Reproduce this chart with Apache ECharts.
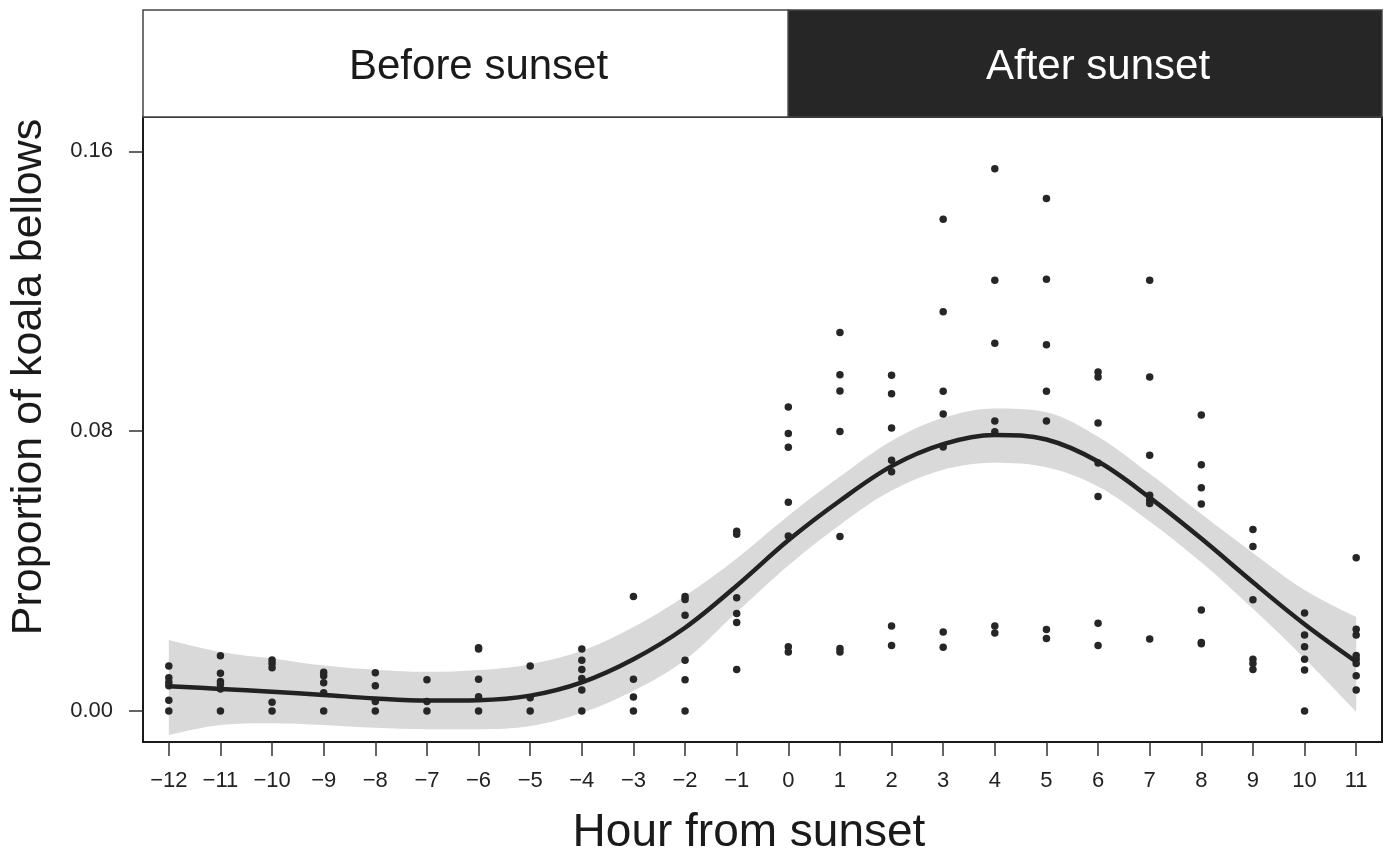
<!DOCTYPE html>
<html>
<head>
<meta charset="utf-8">
<script src="https://cdn.jsdelivr.net/npm/echarts@6/dist/echarts.min.js"></script>
<style>
html,body{margin:0;padding:0;background:#fff;}
#chart{width:1388px;height:851px;}
</style>
</head>
<body>
<div id="chart"></div>
<script>
// ---- data ----
const hours = [-12,-11,-10,-9,-8,-7,-6,-5,-4,-3,-2,-1,0,1,2,3,4,5,6,7,8,9,10,11];
const pointValues = [
  [0.0129, 0.0095, 0.0082, 0.0072, 0.0031, 0.0],
  [0.0158, 0.0108, 0.0084, 0.0076, 0.0063, 0.0],
  [0.0146, 0.0136, 0.0124, 0.0025, 0.0],
  [0.0111, 0.0101, 0.0081, 0.0052, 0.0],
  [0.0109, 0.0072, 0.0027, 0.0],
  [0.0089, 0.0027, 0.0],
  [0.0181, 0.0177, 0.0091, 0.0041, 0.0],
  [0.0129, 0.0038, 0.0],
  [0.0177, 0.0145, 0.0119, 0.0093, 0.0060, 0.0],
  [0.0327, 0.0091, 0.0040, 0.0],
  [0.0327, 0.0319, 0.0274, 0.0145, 0.0089, 0.0],
  [0.0514, 0.0505, 0.0324, 0.0279, 0.0253, 0.0119],
  [0.0869, 0.0793, 0.0754, 0.0597, 0.0500, 0.0184, 0.0169],
  [0.1082, 0.0961, 0.0915, 0.0799, 0.0499, 0.0179, 0.0169],
  [0.0960, 0.0907, 0.0809, 0.0717, 0.0684, 0.0243, 0.0187],
  [0.1406, 0.1141, 0.0914, 0.0849, 0.0755, 0.0226, 0.0182],
  [0.1550, 0.1231, 0.1051, 0.0829, 0.0798, 0.0243, 0.0223],
  [0.1465, 0.1234, 0.1047, 0.0914, 0.0829, 0.0233, 0.0207],
  [0.0969, 0.0955, 0.0823, 0.0709, 0.0613, 0.0251, 0.0187],
  [0.1231, 0.0955, 0.0731, 0.0617, 0.0603, 0.0593, 0.0206],
  [0.0846, 0.0704, 0.0638, 0.0592, 0.0289, 0.0196, 0.0192],
  [0.0519, 0.0470, 0.0318, 0.0148, 0.0136, 0.0119],
  [0.0280, 0.0217, 0.0184, 0.0148, 0.0117, 0.0],
  [0.0438, 0.0234, 0.0217, 0.0159, 0.0148, 0.0136, 0.0101, 0.0060]
];
const fitValues = [0.0071,0.0063,0.0055,0.0046,0.0036,0.0030,0.0031,0.0044,0.0082,0.0148,0.0238,0.0358,0.0488,0.0601,0.0700,0.0763,0.0789,0.0776,0.0713,0.0610,0.0493,0.0368,0.0248,0.0141];
const bandUpper = [0.0203,0.0169,0.0150,0.0130,0.0118,0.0112,0.0117,0.0134,0.0172,0.0240,0.0329,0.0436,0.0558,0.0670,0.0772,0.0838,0.0865,0.0854,0.0784,0.0678,0.0563,0.0452,0.0346,0.0269];
const bandLower = [-0.0069,-0.0040,-0.0035,-0.0040,-0.0048,-0.0052,-0.0052,-0.0043,-0.0005,0.0058,0.0146,0.0282,0.0416,0.0532,0.0630,0.0690,0.0710,0.0697,0.0642,0.0542,0.0425,0.0292,0.0150,-0.0002];
const yTicks = [0, 0.08, 0.16];
const stripLabels = ['Before sunset', 'After sunset'];
const stripLabelHours = [-6, 6];
const stripSplitHour = 0;
const xTitle = 'Hour from sunset';
const yTitle = 'Proportion of koala bellows';

// ---- axis extents ----
const yMin = -0.00886, yMax = 0.1698;
const xMin = hours[0] - 0.5, xMax = hours[hours.length - 1] + 0.5;

const hourLabels = hours.map(h => (h < 0 ? '\u2212' + Math.abs(h) : String(h)));
const scatterData = [];
hours.forEach((h, i) => pointValues[i].forEach(v => scatterData.push([i, v])));
const widthData = bandUpper.map((u, i) => u - bandLower[i]);
const stripData = [
  [xMin, stripSplitHour, stripLabelHours[0], stripLabels[0]],
  [stripSplitHour, xMax, stripLabelHours[1], stripLabels[1]]
];

const FONT = "'Liberation Sans', Arial, Helvetica, sans-serif";
const SMOOTH = 0.35;
const chart = echarts.init(document.getElementById('chart'), null, {renderer: 'canvas'});
chart.setOption({
  backgroundColor: '#ffffff',
  animation: false,
  grid: [
    {left: 143, right: 6, top: 117, bottom: 109, show: true, borderColor: '#1a1a1a', borderWidth: 2, backgroundColor: 'transparent'},
    {left: 143, right: 6, top: 10, height: 107, show: false}
  ],
  xAxis: [
    {
      type: 'category', gridIndex: 0, data: hourLabels, boundaryGap: true,
      axisLine: {show: false, onZero: false},
      axisTick: {show: true, length: 14, alignWithLabel: true, interval: 0, lineStyle: {color: '#333', width: 1.5}},
      axisLabel: {interval: 0, margin: 28, fontFamily: FONT, fontSize: 22, color: '#222'},
      splitLine: {show: false}
    },
    {type: 'value', gridIndex: 1, min: xMin, max: xMax, show: false}
  ],
  yAxis: [
    {
      type: 'value', gridIndex: 0, min: yMin, max: yMax,
      axisLine: {show: false, onZero: false},
      axisTick: {show: true, length: 14, customValues: yTicks, lineStyle: {color: '#333', width: 1.5}},
      axisLabel: {customValues: yTicks, margin: 30, fontFamily: FONT, fontSize: 22, color: '#222',
        formatter: v => v.toFixed(2)},
      splitLine: {show: false}
    },
    {type: 'value', gridIndex: 1, min: 0, max: 1, show: false}
  ],
  graphic: [
    {type: 'text', x: 749, y: 833,
      style: {text: xTitle, font: '46px ' + FONT, fill: '#1a1a1a', align: 'center', verticalAlign: 'middle'}},
    {type: 'text', x: 29, y: 377, rotation: Math.PI / 2,
      style: {text: yTitle, font: '43px ' + FONT, fill: '#1a1a1a', align: 'center', verticalAlign: 'middle'}}
  ],
  series: [
    {
      type: 'line', xAxisIndex: 0, yAxisIndex: 0, data: bandLower, stack: 'band', stackStrategy: 'all',
      smooth: SMOOTH, symbol: 'none', lineStyle: {opacity: 0}, silent: true, z: 1
    },
    {
      type: 'line', xAxisIndex: 0, yAxisIndex: 0, data: widthData, stack: 'band', stackStrategy: 'all',
      smooth: SMOOTH, symbol: 'none', lineStyle: {opacity: 0}, areaStyle: {color: '#d9d9d9', opacity: 1}, silent: true, z: 1
    },
    {
      type: 'scatter', xAxisIndex: 0, yAxisIndex: 0, data: scatterData,
      symbol: 'circle', symbolSize: 7.5, itemStyle: {color: '#262626', opacity: 1}, z: 3
    },
    {
      type: 'line', xAxisIndex: 0, yAxisIndex: 0, data: fitValues, smooth: SMOOTH, symbol: 'none',
      lineStyle: {color: '#222222', width: 4.5}, z: 4
    },
    {
      type: 'custom', xAxisIndex: 1, yAxisIndex: 1, data: stripData, silent: true, z: 5,
      renderItem: function (params, api) {
        const p0 = api.coord([api.value(0), 1]);
        const p1 = api.coord([api.value(1), 0]);
        const pc = api.coord([api.value(2), 0.5]);
        const dark = params.dataIndex === 1;
        return {
          type: 'group',
          children: [
            {type: 'rect', shape: {x: p0[0], y: p0[1], width: p1[0] - p0[0], height: p1[1] - p0[1]},
              style: {fill: dark ? '#262626' : '#ffffff', stroke: '#444', lineWidth: 1.5}},
            {type: 'text', x: pc[0], y: pc[1] + 4,
              style: {text: api.value(3), fill: dark ? '#ffffff' : '#1a1a1a', font: '42px ' + FONT,
                align: 'center', verticalAlign: 'middle'}}
          ]
        };
      }
    }
  ]
});
</script>
</body>
</html>
